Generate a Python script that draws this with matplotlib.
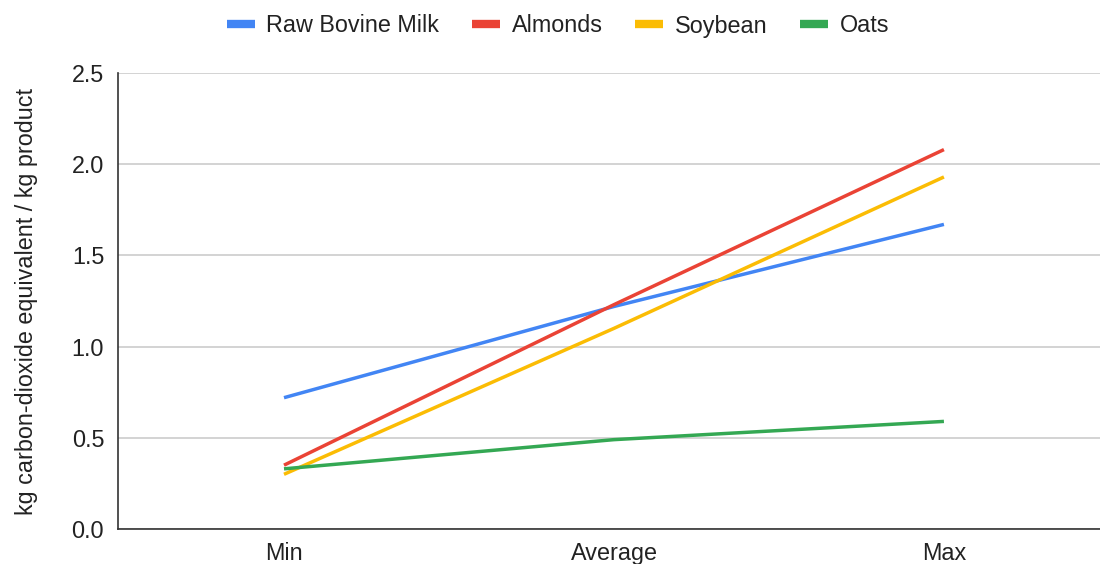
import matplotlib
matplotlib.use("Agg")
import matplotlib.pyplot as plt

plt.rcParams["font.family"] = ["Liberation Sans", "DejaVu Sans"]

categories = ["Min", "Average", "Max"]
raw_bovine_milk = [0.72, 1.22, 1.67]
almonds = [0.35, 1.23, 2.08]
soybean = [0.30, 1.10, 1.93]
oats = [0.33, 0.49, 0.59]

series = [
    ("Raw Bovine Milk", raw_bovine_milk, "#4285F4"),
    ("Almonds", almonds, "#EA4335"),
    ("Soybean", soybean, "#FBBC04"),
    ("Oats", oats, "#34A853"),
]

TEXT = "#222222"
SIZE = 16.8

fig = plt.figure(figsize=(11, 5.64), dpi=100)
ax = fig.add_axes([0.1073, 0.062, 0.8927, 0.8086])

x = range(len(categories))
for name, values, color in series:
    ax.plot(x, values, color=color, linewidth=2.5, label=name, solid_capstyle="butt")

ax.set_xlim(-0.503, 2.473)
ax.set_ylim(0, 2.5)
ax.set_yticks([0.0, 0.5, 1.0, 1.5, 2.0, 2.5])
ax.set_yticklabels(["0.0", "0.5", "1.0", "1.5", "2.0", "2.5"])
ax.set_xticks(list(x), categories)
ax.tick_params(axis="both", length=0, labelsize=SIZE, colors=TEXT)
ax.tick_params(axis="y", pad=10)
ax.tick_params(axis="x", pad=9)
ax.set_ylabel("kg carbon-dioxide equivalent / kg product", fontsize=SIZE,
              color=TEXT, labelpad=24)

ax.grid(axis="y", color="#cccccc", linewidth=1.2)
ax.set_axisbelow(True)
for side in ["top", "right"]:
    ax.spines[side].set_visible(False)
for side in ["left", "bottom"]:
    ax.spines[side].set_color("#333333")
    ax.spines[side].set_linewidth(1.2)

leg = fig.legend(
    loc="center",
    bbox_to_anchor=(0.5 + 8 / 1100, 1 - 26 / 564),
    ncol=4,
    frameon=False,
    fontsize=SIZE,
    handlelength=1.2,
    handletextpad=0.5,
    columnspacing=1.4,
    labelcolor=TEXT,
)
for line in leg.get_lines():
    line.set_linewidth(6)

fig.savefig("out.png", dpi=100, facecolor="white")
